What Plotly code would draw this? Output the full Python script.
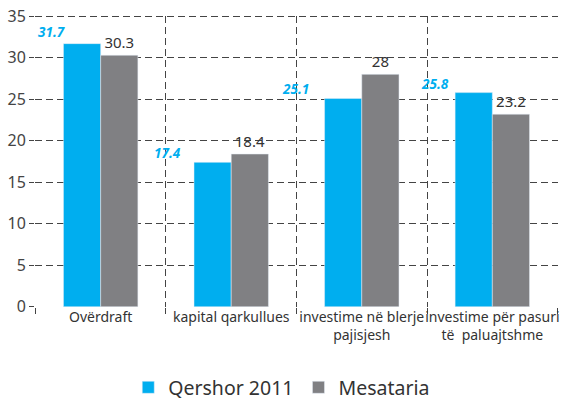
import plotly.graph_objects as go

# Categories and series values
categories = [
    'Overdraft',
    'kapital qarkullues',
    'investime në blerje<br>pajisjesh',
    'investime për pasuri<br>të  paluajtshme',
]
tick_text = [
    'Ovërdraft',
    'kapital qarkullues',
    'investime në blerje<br>pajisjesh',
    'investime për pasuri<br>të  paluajtshme',
]
qershor_2011 = [31.7, 17.4, 25.1, 25.8]
mesataria = [30.3, 18.4, 28, 23.2]
y_max = 35

BLUE = '#00AEEF'
GREY = '#808083'
GRID = '#444444'
FONT = 'Noto Sans'

fig = go.Figure()

fig.add_trace(go.Bar(
    x=categories,
    y=qershor_2011,
    name='Qershor 2011',
    marker_color=BLUE,
))

fig.add_trace(go.Bar(
    x=categories,
    y=mesataria,
    name='Mesataria',
    marker_color=GREY,
    text=[f'{v:g}' for v in mesataria],
    textposition='outside',
    textfont=dict(family=FONT, size=15, color='#333333'),
    cliponaxis=False,
))

# Blue value labels sit to the upper left of each group
label_shift_x = [-49, -64, -66, -57]
label_shift_y = [12, 9, 9, 9]
for cat, val, dx, dy in zip(categories, qershor_2011, label_shift_x, label_shift_y):
    fig.add_annotation(
        x=cat, y=val, text=f'<b><i>{val}</i></b>',
        showarrow=False, xshift=dx, yshift=dy,
        font=dict(family=FONT, size=13.5, color=BLUE),
    )

# Dashed top border of the plot area
fig.add_shape(
    type='line', xref='paper', x0=0, x1=1, yref='y', y0=y_max, y1=y_max,
    line=dict(color=GRID, width=1.3, dash='7px,4px'),
    layer='below',
)

fig.update_layout(
    width=575,
    height=401,
    margin=dict(l=35, r=17, t=16, b=94, autoexpand=False),
    paper_bgcolor='white',
    plot_bgcolor='white',
    barmode='group',
    bargap=0.43,
    bargroupgap=0,
    font=dict(family=FONT, color='#333333'),
    showlegend=True,
    legend=dict(
        orientation='h',
        xref='container', x=0.49, xanchor='center',
        yref='container', y=0.082, yanchor='top',
        font=dict(size=19.5, color='#333333'),
        itemwidth=30,
    ),
)

fig.update_xaxes(
    range=[-0.503, 3.503],
    tickson='boundaries',
    tickvals=categories,
    ticktext=tick_text,
    tickangle=0,
    automargin=False,
    showgrid=True,
    gridcolor=GRID,
    griddash='7px,4px',
    gridwidth=1.3,
    ticks='outside',
    ticklen=6,
    tickcolor=GRID,
    tickfont=dict(size=14, color='#333333'),
    showline=False,
    zeroline=False,
)

fig.update_yaxes(
    range=[-0.03, y_max + 0.03],
    tickvals=[0, 5, 10, 15, 20, 25, 30, 35],
    automargin=False,
    showgrid=True,
    gridcolor=GRID,
    griddash='7px,4px',
    gridwidth=1.3,
    ticks='outside',
    ticklen=5,
    tickcolor=GRID,
    tickfont=dict(size=16, color='#444444'),
    zeroline=False,
    showline=False,
)

# Drop the default page margin so the figure sits at the top-left corner
fig.write_html(
    "out.html",
    config={'displayModeBar': False},
    post_script="document.body.style.margin = '0';",
)
